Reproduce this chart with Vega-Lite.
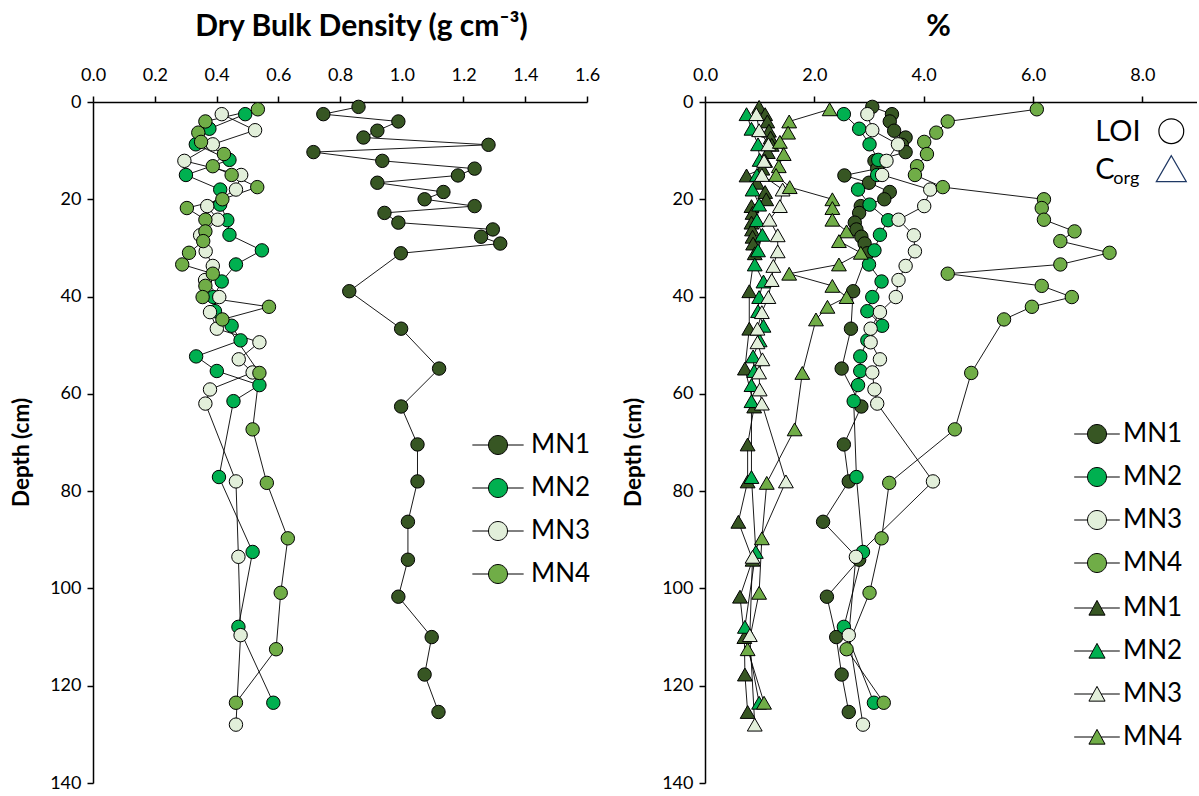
{
  "$schema": "https://vega.github.io/schema/vega-lite/v6.json",
  "background": "white",
  "padding": {"left": 10, "top": 11, "right": 0, "bottom": 0},
  "spacing": 22,
  "config": {
    "view": {"stroke": null},
    "font": "Lato",
    "axis": {
      "grid": false,
      "domainColor": "black",
      "domainWidth": 1.5,
      "tickColor": "black",
      "tickWidth": 1.5,
      "tickSize": 6,
      "labelColor": "black",
      "labelFont": "Lato",
      "labelFontSize": 18,
      "labelPadding": 6,
      "labelFlush": false,
      "labelOverlap": false,
      "labelBound": false,
      "titleFont": "Lato",
      "titleFontWeight": "bold",
      "titleColor": "black"
    },
    "legend": {
      "title": null,
      "orient": "none",
      "padding": 0,
      "labelFont": "Lato",
      "labelFontSize": 26,
      "labelColor": "black",
      "labelOffset": 20,
      "rowPadding": 17,
      "symbolSize": 361,
      "symbolStrokeColor": "black",
      "symbolStrokeWidth": 1
    }
  },
  "datasets": {
    "cores": [
      {"core": "MN1", "depth": 1.0, "bd": 0.86, "loi": 3.06, "corg": 0.99},
      {"core": "MN1", "depth": 2.5, "bd": 0.746, "loi": 3.42, "corg": 1.1},
      {"core": "MN1", "depth": 4.0, "bd": 0.989, "loi": 3.38, "corg": 1.14},
      {"core": "MN1", "depth": 5.9, "bd": 0.921, "loi": 3.46, "corg": 1.17},
      {"core": "MN1", "depth": 7.3, "bd": 0.876, "loi": 3.67, "corg": 1.2},
      {"core": "MN1", "depth": 8.8, "bd": 1.281, "loi": 3.6, "corg": 1.22},
      {"core": "MN1", "depth": 10.3, "bd": 0.714, "loi": 3.67, "corg": 1.15},
      {"core": "MN1", "depth": 12.1, "bd": 0.937, "loi": 3.1, "corg": 1.1},
      {"core": "MN1", "depth": 13.7, "bd": 1.236, "loi": 3.15, "corg": 1.05},
      {"core": "MN1", "depth": 15.1, "bd": 1.182, "loi": 2.55, "corg": 0.76},
      {"core": "MN1", "depth": 16.6, "bd": 0.921, "loi": 3.0, "corg": 0.95},
      {"core": "MN1", "depth": 18.5, "bd": 1.135, "loi": 3.38, "corg": 1.1},
      {"core": "MN1", "depth": 20.0, "bd": 1.074, "loi": 3.28, "corg": 1.12},
      {"core": "MN1", "depth": 21.4, "bd": 1.236, "loi": 2.85, "corg": 0.85},
      {"core": "MN1", "depth": 22.8, "bd": 0.944, "loi": 2.82, "corg": 0.87},
      {"core": "MN1", "depth": 24.8, "bd": 0.989, "loi": 2.74, "corg": 0.85},
      {"core": "MN1", "depth": 26.2, "bd": 1.295, "loi": 2.77, "corg": 0.86},
      {"core": "MN1", "depth": 27.7, "bd": 1.257, "loi": 2.86, "corg": 0.87},
      {"core": "MN1", "depth": 29.1, "bd": 1.319, "loi": 2.92, "corg": 0.88},
      {"core": "MN1", "depth": 31.1, "bd": 0.997, "loi": 2.97, "corg": 0.91},
      {"core": "MN1", "depth": 38.9, "bd": 0.83, "loi": 2.71, "corg": 0.81},
      {"core": "MN1", "depth": 46.6, "bd": 0.998, "loi": 2.67, "corg": 0.81},
      {"core": "MN1", "depth": 54.8, "bd": 1.121, "loi": 2.5, "corg": 0.73},
      {"core": "MN1", "depth": 62.6, "bd": 0.998, "loi": 2.86, "corg": 0.9},
      {"core": "MN1", "depth": 70.4, "bd": 1.051, "loi": 2.54, "corg": 0.78},
      {"core": "MN1", "depth": 78.0, "bd": 1.051, "loi": 2.63, "corg": 0.78},
      {"core": "MN1", "depth": 86.3, "bd": 1.02, "loi": 2.16, "corg": 0.61},
      {"core": "MN1", "depth": 94.1, "bd": 1.02, "loi": 2.82, "corg": 0.87},
      {"core": "MN1", "depth": 101.7, "bd": 0.989, "loi": 2.23, "corg": 0.64},
      {"core": "MN1", "depth": 110.0, "bd": 1.097, "loi": 2.4, "corg": 0.72},
      {"core": "MN1", "depth": 117.7, "bd": 1.074, "loi": 2.5, "corg": 0.73},
      {"core": "MN1", "depth": 125.4, "bd": 1.119, "loi": 2.63, "corg": 0.78},
      {"core": "MN2", "depth": 2.5, "bd": 0.493, "loi": 2.54, "corg": 0.76},
      {"core": "MN2", "depth": 5.5, "bd": 0.377, "loi": 2.82, "corg": 0.85},
      {"core": "MN2", "depth": 8.7, "bd": 0.333, "loi": 3.01, "corg": 0.97},
      {"core": "MN2", "depth": 11.9, "bd": 0.442, "loi": 3.17, "corg": 1.0},
      {"core": "MN2", "depth": 15.0, "bd": 0.301, "loi": 3.15, "corg": 0.95},
      {"core": "MN2", "depth": 18.0, "bd": 0.412, "loi": 2.8, "corg": 0.87},
      {"core": "MN2", "depth": 21.1, "bd": 0.412, "loi": 3.01, "corg": 0.99},
      {"core": "MN2", "depth": 24.3, "bd": 0.435, "loi": 3.35, "corg": 0.95},
      {"core": "MN2", "depth": 27.3, "bd": 0.442, "loi": 3.2, "corg": 1.05},
      {"core": "MN2", "depth": 30.5, "bd": 0.547, "loi": 3.1, "corg": 0.97},
      {"core": "MN2", "depth": 33.4, "bd": 0.463, "loi": 3.0, "corg": 0.91},
      {"core": "MN2", "depth": 36.9, "bd": 0.417, "loi": 3.23, "corg": 1.07},
      {"core": "MN2", "depth": 40.1, "bd": 0.39, "loi": 3.06, "corg": 0.99},
      {"core": "MN2", "depth": 43.0, "bd": 0.395, "loi": 2.97, "corg": 0.97},
      {"core": "MN2", "depth": 46.0, "bd": 0.449, "loi": 3.24, "corg": 1.07},
      {"core": "MN2", "depth": 49.0, "bd": 0.478, "loi": 2.97, "corg": 1.0},
      {"core": "MN2", "depth": 52.3, "bd": 0.334, "loi": 2.84, "corg": 0.88},
      {"core": "MN2", "depth": 55.3, "bd": 0.401, "loi": 2.84, "corg": 0.9},
      {"core": "MN2", "depth": 58.2, "bd": 0.539, "loi": 2.8, "corg": 0.85},
      {"core": "MN2", "depth": 61.5, "bd": 0.455, "loi": 2.72, "corg": 0.85},
      {"core": "MN2", "depth": 77.1, "bd": 0.408, "loi": 2.77, "corg": 0.85},
      {"core": "MN2", "depth": 92.5, "bd": 0.517, "loi": 2.89, "corg": 0.93},
      {"core": "MN2", "depth": 107.9, "bd": 0.471, "loi": 2.54, "corg": 0.73},
      {"core": "MN2", "depth": 123.5, "bd": 0.584, "loi": 3.09, "corg": 0.99},
      {"core": "MN3", "depth": 2.5, "bd": 0.417, "loi": 2.97, "corg": 0.94},
      {"core": "MN3", "depth": 5.8, "bd": 0.525, "loi": 3.06, "corg": 0.99},
      {"core": "MN3", "depth": 8.7, "bd": 0.388, "loi": 3.53, "corg": 1.16},
      {"core": "MN3", "depth": 12.1, "bd": 0.296, "loi": 3.32, "corg": 1.08},
      {"core": "MN3", "depth": 15.0, "bd": 0.48, "loi": 3.24, "corg": 1.04},
      {"core": "MN3", "depth": 18.0, "bd": 0.463, "loi": 4.12, "corg": 1.42},
      {"core": "MN3", "depth": 21.4, "bd": 0.37, "loi": 4.01, "corg": 1.37},
      {"core": "MN3", "depth": 24.2, "bd": 0.404, "loi": 3.54, "corg": 1.18},
      {"core": "MN3", "depth": 27.4, "bd": 0.347, "loi": 3.82, "corg": 1.33},
      {"core": "MN3", "depth": 30.7, "bd": 0.365, "loi": 3.84, "corg": 1.33},
      {"core": "MN3", "depth": 33.7, "bd": 0.388, "loi": 3.67, "corg": 1.25},
      {"core": "MN3", "depth": 36.6, "bd": 0.363, "loi": 3.54, "corg": 1.22},
      {"core": "MN3", "depth": 40.1, "bd": 0.409, "loi": 3.49, "corg": 1.16},
      {"core": "MN3", "depth": 43.2, "bd": 0.379, "loi": 3.2, "corg": 1.04},
      {"core": "MN3", "depth": 46.6, "bd": 0.401, "loi": 3.03, "corg": 0.96},
      {"core": "MN3", "depth": 49.4, "bd": 0.539, "loi": 3.03, "corg": 0.96},
      {"core": "MN3", "depth": 52.9, "bd": 0.472, "loi": 3.2, "corg": 1.05},
      {"core": "MN3", "depth": 55.6, "bd": 0.517, "loi": 3.06, "corg": 0.99},
      {"core": "MN3", "depth": 59.1, "bd": 0.379, "loi": 3.1, "corg": 1.0},
      {"core": "MN3", "depth": 62.0, "bd": 0.364, "loi": 3.15, "corg": 1.04},
      {"core": "MN3", "depth": 78.0, "bd": 0.463, "loi": 4.17, "corg": 1.48},
      {"core": "MN3", "depth": 93.5, "bd": 0.471, "loi": 2.76, "corg": 0.87},
      {"core": "MN3", "depth": 109.6, "bd": 0.478, "loi": 2.63, "corg": 0.82},
      {"core": "MN3", "depth": 128.0, "bd": 0.463, "loi": 2.89, "corg": 0.91},
      {"core": "MN4", "depth": 1.5, "bd": 0.534, "loi": 6.07, "corg": 2.28},
      {"core": "MN4", "depth": 4.0, "bd": 0.364, "loi": 4.44, "corg": 1.54},
      {"core": "MN4", "depth": 6.3, "bd": 0.341, "loi": 4.23, "corg": 1.52},
      {"core": "MN4", "depth": 8.2, "bd": 0.35, "loi": 4.01, "corg": 1.37},
      {"core": "MN4", "depth": 10.7, "bd": 0.424, "loi": 4.06, "corg": 1.44},
      {"core": "MN4", "depth": 13.2, "bd": 0.388, "loi": 3.88, "corg": 1.35},
      {"core": "MN4", "depth": 15.0, "bd": 0.449, "loi": 3.84, "corg": 1.3},
      {"core": "MN4", "depth": 17.5, "bd": 0.532, "loi": 4.35, "corg": 1.55},
      {"core": "MN4", "depth": 20.0, "bd": 0.419, "loi": 6.2, "corg": 2.33},
      {"core": "MN4", "depth": 21.8, "bd": 0.304, "loi": 6.16, "corg": 2.33},
      {"core": "MN4", "depth": 24.2, "bd": 0.364, "loi": 6.2, "corg": 2.33},
      {"core": "MN4", "depth": 26.6, "bd": 0.364, "loi": 6.76, "corg": 2.59},
      {"core": "MN4", "depth": 28.6, "bd": 0.357, "loi": 6.5, "corg": 2.45},
      {"core": "MN4", "depth": 31.0, "bd": 0.311, "loi": 7.4, "corg": 2.85},
      {"core": "MN4", "depth": 33.4, "bd": 0.289, "loi": 6.5, "corg": 2.45},
      {"core": "MN4", "depth": 35.3, "bd": 0.388, "loi": 4.44, "corg": 1.54},
      {"core": "MN4", "depth": 37.8, "bd": 0.364, "loi": 6.16, "corg": 2.33},
      {"core": "MN4", "depth": 40.1, "bd": 0.355, "loi": 6.71, "corg": 2.59},
      {"core": "MN4", "depth": 42.1, "bd": 0.57, "loi": 5.98, "corg": 2.24},
      {"core": "MN4", "depth": 44.7, "bd": 0.419, "loi": 5.47, "corg": 2.03},
      {"core": "MN4", "depth": 55.7, "bd": 0.539, "loi": 4.87, "corg": 1.78},
      {"core": "MN4", "depth": 67.3, "bd": 0.517, "loi": 4.57, "corg": 1.64},
      {"core": "MN4", "depth": 78.3, "bd": 0.563, "loi": 3.37, "corg": 1.13},
      {"core": "MN4", "depth": 89.7, "bd": 0.631, "loi": 3.23, "corg": 1.04},
      {"core": "MN4", "depth": 100.9, "bd": 0.608, "loi": 3.01, "corg": 0.99},
      {"core": "MN4", "depth": 112.5, "bd": 0.593, "loi": 2.59, "corg": 0.78},
      {"core": "MN4", "depth": 123.5, "bd": 0.463, "loi": 3.27, "corg": 1.08}
    ]
  },
  "data": {"name": "cores"},
  "resolve": {
    "scale": {"x": "independent", "y": "independent", "color": "independent", "fill": "independent"},
    "legend": {"color": "independent", "fill": "independent"}
  },
  "hconcat": [
    {
      "width": 494,
      "height": 681,
      "encoding": {
        "x": {
          "field": "bd",
          "type": "quantitative",
          "scale": {"domain": [0, 1.6], "nice": false, "zero": false},
          "axis": {
            "orient": "top",
            "values": [0, 0.2, 0.4, 0.6, 0.8, 1.0, 1.2, 1.4, 1.6],
            "format": ".1f",
            "labelPadding": 12,
            "title": "Dry Bulk Density (g cm⁻³)",
            "titleFontSize": 30,
            "titlePadding": 25,
            "titleX": 268
          }
        },
        "y": {
          "field": "depth",
          "type": "quantitative",
          "scale": {"domain": [0, 140], "reverse": true, "nice": false, "zero": false},
          "axis": {
            "values": [0, 20, 40, 60, 80, 100, 120, 140],
            "title": "Depth (cm)",
            "titleFontSize": 22.5,
            "titlePadding": 16,
            "titleY": 350
          }
        }
      },
      "layer": [
        {
          "mark": {"type": "line", "color": "black", "strokeWidth": 0.9},
          "encoding": {
            "detail": {"field": "core"},
            "order": {"field": "depth", "type": "quantitative"}
          }
        },
        {
          "mark": {"type": "point", "shape": "circle", "filled": true, "opacity": 1, "size": 180, "stroke": "black", "strokeWidth": 1},
          "encoding": {
            "color": {
              "field": "core",
              "type": "nominal",
              "scale": {"domain": ["MN1", "MN2", "MN3", "MN4"], "range": ["#375623", "#00B050", "#E2EFDA", "#70AD47"]},
              "legend": {
                "legendX": 392,
                "legendY": 330,
                "symbolType": "M-2.7,0L-1,0M1,0L2.7,0M1,0C1,0.5523,0.5523,1,0,1C-0.5523,1,-1,0.5523,-1,0C-1,-0.5523,-0.5523,-1,0,-1C0.5523,-1,1,-0.5523,1,0Z"
              }
            }
          }
        }
      ]
    },
    {
      "width": 492,
      "height": 681,
      "layer": [
        {
          "mark": {"type": "line", "color": "black", "strokeWidth": 0.9},
          "encoding": {
            "x": {
              "field": "loi",
              "type": "quantitative",
              "title": "%",
              "scale": {"domain": [0, 9], "nice": false, "zero": false},
              "axis": {
                "orient": "top",
                "values": [0, 2, 4, 6, 8],
                "format": ".1f",
                "labelPadding": 12,
                "titleFontSize": 30,
                "titlePadding": 25,
                "titleX": 233
              }
            },
            "y": {
              "field": "depth",
              "type": "quantitative",
              "title": "Depth (cm)",
              "scale": {"domain": [0, 140], "reverse": true, "nice": false, "zero": false},
              "axis": {
                "values": [0, 20, 40, 60, 80, 100, 120, 140],
                "titleFontSize": 22.5,
                "titlePadding": 16,
                "titleY": 350
              }
            },
            "detail": {"field": "core"},
            "order": {"field": "depth", "type": "quantitative"}
          }
        },
        {
          "mark": {"type": "line", "color": "black", "strokeWidth": 0.9},
          "encoding": {
            "x": {"field": "corg", "type": "quantitative", "title": "%"},
            "y": {"field": "depth", "type": "quantitative", "title": "Depth (cm)"},
            "detail": {"field": "core"},
            "order": {"field": "depth", "type": "quantitative"}
          }
        },
        {
          "mark": {"type": "point", "shape": "circle", "filled": true, "opacity": 1, "size": 180, "stroke": "black", "strokeWidth": 1},
          "encoding": {
            "x": {"field": "loi", "type": "quantitative", "title": "%"},
            "y": {"field": "depth", "type": "quantitative", "title": "Depth (cm)"},
            "fill": {
              "field": "core",
              "type": "nominal",
              "scale": {"domain": ["MN1", "MN2", "MN3", "MN4"], "range": ["#375623", "#00B050", "#E2EFDA", "#70AD47"]},
              "legend": {
                "orient": "none",
                "legendX": 379,
                "legendY": 319,
                "labelOffset": 13,
                "symbolType": "M-2.4,0L-1,0M1,0L2.4,0M1,0C1,0.5523,0.5523,1,0,1C-0.5523,1,-1,0.5523,-1,0C-1,-0.5523,-0.5523,-1,0,-1C0.5523,-1,1,-0.5523,1,0Z"
              }
            }
          }
        },
        {
          "mark": {"type": "point", "shape": "triangle-up", "filled": true, "opacity": 1, "size": 220, "stroke": "black", "strokeWidth": 1},
          "encoding": {
            "x": {"field": "corg", "type": "quantitative", "title": "%"},
            "y": {"field": "depth", "type": "quantitative", "title": "Depth (cm)"},
            "color": {
              "field": "core",
              "type": "nominal",
              "scale": {"domain": {"unionWith": ["MN1", "MN2", "MN3", "MN4"]}, "range": ["#375623", "#00B050", "#E2EFDA", "#70AD47"]},
              "legend": {
                "orient": "none",
                "legendX": 379,
                "legendY": 493,
                "labelOffset": 13,
                "symbolType": "M-2.4,0L-0.44,0M0.44,0L2.4,0M0,-0.8L0.85,0.75L-0.85,0.75Z"
              }
            }
          }
        },
        {
          "data": {"values": [{"label": "LOI"}]},
          "mark": {"type": "text", "align": "left", "baseline": "middle", "fontSize": 29, "font": "Lato", "color": "black"},
          "encoding": {
            "x": {"datum": 7.14, "type": "quantitative", "title": "%"},
            "y": {"datum": 6.1, "type": "quantitative", "title": "Depth (cm)"},
            "text": {"field": "label"}
          }
        },
        {
          "data": {"values": [{"label": "C"}]},
          "mark": {"type": "text", "align": "left", "baseline": "middle", "fontSize": 29, "font": "Lato", "color": "black"},
          "encoding": {
            "x": {"datum": 7.14, "type": "quantitative", "title": "%"},
            "y": {"datum": 14.0, "type": "quantitative", "title": "Depth (cm)"},
            "text": {"field": "label"}
          }
        },
        {
          "data": {"values": [{"label": "org"}]},
          "mark": {"type": "text", "align": "left", "baseline": "middle", "fontSize": 18, "font": "Lato", "color": "black"},
          "encoding": {
            "x": {"datum": 7.47, "type": "quantitative", "title": "%"},
            "y": {"datum": 15.8, "type": "quantitative", "title": "Depth (cm)"},
            "text": {"field": "label"}
          }
        },
        {
          "data": {"values": [{"symbol": "LOI"}]},
          "mark": {"type": "point", "shape": "circle", "filled": true, "fill": "white", "opacity": 1, "size": 615, "stroke": "black", "strokeWidth": 1.2},
          "encoding": {
            "x": {"datum": 8.53, "type": "quantitative", "title": "%"},
            "y": {"datum": 6.0, "type": "quantitative", "title": "Depth (cm)"}
          }
        },
        {
          "data": {"values": [{"symbol": "Corg"}]},
          "mark": {"type": "point", "shape": "triangle-up", "filled": true, "fill": "white", "opacity": 1, "size": 900, "stroke": "#1F3864", "strokeWidth": 1.2},
          "encoding": {
            "x": {"datum": 8.53, "type": "quantitative", "title": "%"},
            "y": {"datum": 13.7, "type": "quantitative", "title": "Depth (cm)"}
          }
        }
      ]
    }
  ]
}
